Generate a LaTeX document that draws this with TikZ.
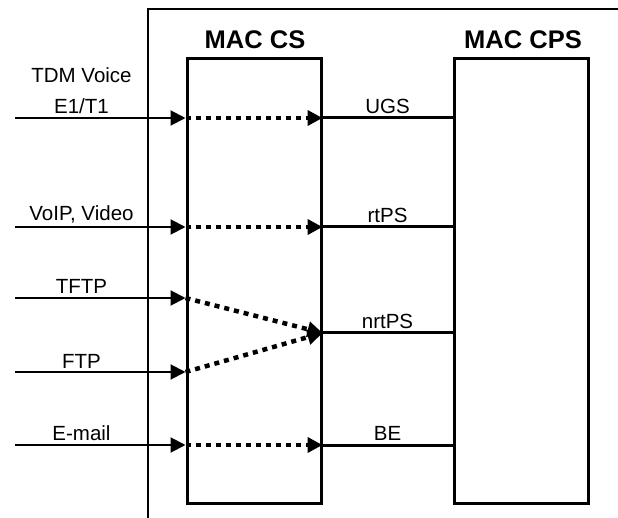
\documentclass[tikz,border=0pt]{standalone}
\usepackage{fontspec}
\setmainfont{Liberation Sans}
\usetikzlibrary{arrows.meta, positioning}

\tikzset{
  layerbox/.style={draw, line width=3pt, minimum width=134pt, minimum height=444pt, inner sep=0pt},
  layertitle/.style={font=\fontsize{25.5}{28}\selectfont\bfseries},
  inflow/.style={line width=2pt, -{Triangle[length=15pt, width=15pt]}},
  cslink/.style={line width=4.5pt, dash pattern=on 5pt off 5pt, -{Triangle[length=15pt, width=15pt]}},
  sflow/.style={line width=3pt},
  lbl/.style={font=\fontsize{20.5}{24}\selectfont, inner sep=3pt, align=center}
}

\begin{document}
\begin{tikzpicture}[x=1pt, y=-1pt]
    \useasboundingbox (0,0) rectangle (618,518);

    % MAC frame
    \draw[line width=1.7pt] (148,518) -- (148,9) -- (618,9);

    % Convergence and common part sublayers
    \node[layerbox] (cs) at (254,281) {};
    \node[layerbox] (cps) at (521,281) {};
    \node[layertitle] (cstitle) at (255,40) {MAC CS};
    \node[layertitle] (cpstitle) at (523,40) {MAC CPS};

    % Service flows towards the CPS
    \foreach \y/\n/\t in {118/ugs/UGS, 227/rtps/rtPS, 333/nrtps/nrtPS, 445/be/BE} {
        \coordinate (\n) at (cs.east |- 0,\y);
        \draw[sflow] (\n) -- (cps.west |- \n) node[lbl, midway, above] (\n-lbl) {\t};
    }

    % Applications into the CS
    \coordinate (tdm) at (15,118);
    \coordinate (tdm-in) at (cs.west |- tdm);
    \draw[inflow] (tdm) -- (tdm-in) node[lbl, pos=0.39, above, font=\fontsize{20.5}{31}\selectfont] (tdm-lbl) {TDM Voice\\E1/T1};
    \foreach \y/\n/\t in {227/voip/VoIP{,} Video, 298/tftp/TFTP, 372/ftp/FTP, 445/mail/E-mail} {
        \coordinate (\n) at (15,\y);
        \coordinate (\n-in) at (cs.west |- \n);
        \draw[inflow] (\n) -- (\n-in) node[lbl, pos=0.39, above] (\n-lbl) {\t};
    }

    % Classification inside the CS
    \draw[cslink] (tdm-in) -- (ugs);
    \draw[cslink] (voip-in) -- (rtps);
    \draw[cslink] (tftp-in) -- (nrtps);
    \draw[cslink] (ftp-in) -- (nrtps);
    \draw[cslink] (mail-in) -- (be);

\end{tikzpicture}
\end{document}
